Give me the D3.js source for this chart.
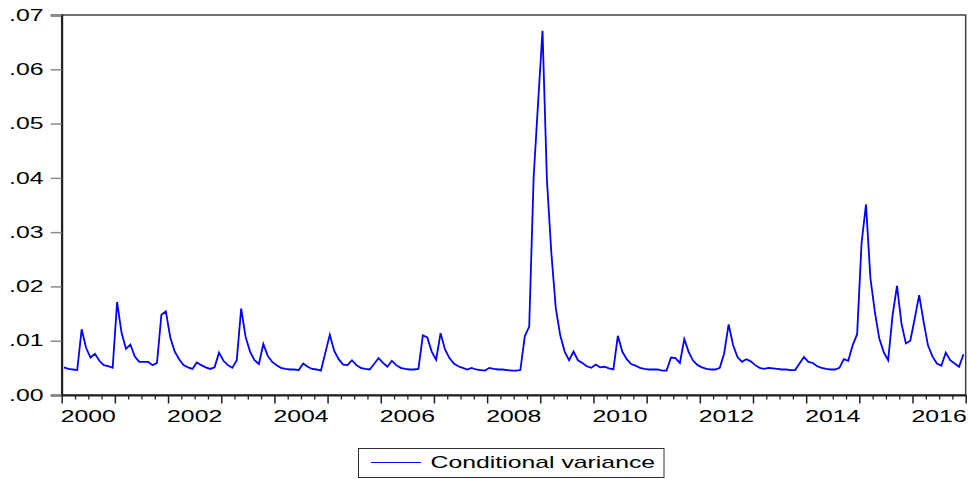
<!DOCTYPE html>
<html>
<head>
<meta charset="utf-8">
<script src="https://cdn.jsdelivr.net/npm/d3@7"></script>
<style>
  html, body { margin: 0; padding: 0; background: #fff; }
  svg { display: block; }
  text { font-family: "Liberation Sans", Arial, sans-serif; font-size: 16px; fill: #000; }
</style>
</head>
<body>
<svg id="chart" width="968" height="479"></svg>
<script>
// Monthly conditional variance, 2000M01 - 2016M12 (one row of twelve months per year)
const startYear = 2000;
const endYear = 2017;
const variance2000 = [0.0051, 0.0048, 0.0047, 0.0046, 0.0121, 0.0087, 0.0069, 0.0076, 0.0063, 0.0055, 0.0053, 0.0050];
const variance2001 = [0.0171, 0.0115, 0.0085, 0.0093, 0.0071, 0.0061, 0.0061, 0.0061, 0.0055, 0.0059, 0.0148, 0.0154];
const variance2002 = [0.0106, 0.0080, 0.0066, 0.0055, 0.0051, 0.0048, 0.0060, 0.0055, 0.0051, 0.0048, 0.0051, 0.0078];
const variance2003 = [0.0063, 0.0055, 0.0050, 0.0064, 0.0159, 0.0107, 0.0080, 0.0064, 0.0057, 0.0094, 0.0072, 0.0061];
const variance2004 = [0.0055, 0.0050, 0.0048, 0.0047, 0.0047, 0.0046, 0.0058, 0.0052, 0.0048, 0.0047, 0.0045, 0.0078];
const variance2005 = [0.0111, 0.0081, 0.0066, 0.0056, 0.0055, 0.0064, 0.0055, 0.0050, 0.0048, 0.0047, 0.0057, 0.0068];
const variance2006 = [0.0059, 0.0052, 0.0063, 0.0055, 0.0050, 0.0048, 0.0047, 0.0047, 0.0048, 0.0110, 0.0106, 0.0080];
const variance2007 = [0.0065, 0.0114, 0.0084, 0.0068, 0.0058, 0.0053, 0.0050, 0.0047, 0.0050, 0.0047, 0.0046, 0.0045];
const variance2008 = [0.0050, 0.0048, 0.0047, 0.0047, 0.0046, 0.0045, 0.0045, 0.0046, 0.0108, 0.0126, 0.0401, 0.0538];
const variance2009 = [0.0671, 0.0396, 0.0261, 0.0160, 0.0110, 0.0080, 0.0064, 0.0080, 0.0064, 0.0059, 0.0053, 0.0050];
const variance2010 = [0.0056, 0.0051, 0.0052, 0.0049, 0.0047, 0.0109, 0.0080, 0.0066, 0.0057, 0.0054, 0.0050, 0.0048];
const variance2011 = [0.0047, 0.0047, 0.0047, 0.0045, 0.0045, 0.0069, 0.0068, 0.0059, 0.0103, 0.0079, 0.0063, 0.0055];
const variance2012 = [0.0051, 0.0048, 0.0047, 0.0047, 0.0050, 0.0077, 0.0130, 0.0092, 0.0070, 0.0061, 0.0066, 0.0062];
const variance2013 = [0.0055, 0.0050, 0.0048, 0.0050, 0.0049, 0.0048, 0.0047, 0.0047, 0.0046, 0.0046, 0.0058, 0.0070];
const variance2014 = [0.0061, 0.0059, 0.0053, 0.0050, 0.0048, 0.0047, 0.0047, 0.0050, 0.0066, 0.0063, 0.0092, 0.0112];
const variance2015 = [0.0280, 0.0351, 0.0215, 0.0153, 0.0104, 0.0079, 0.0064, 0.0147, 0.0201, 0.0132, 0.0095, 0.0100];
const variance2016 = [0.0141, 0.0184, 0.0135, 0.0091, 0.0071, 0.0058, 0.0054, 0.0078, 0.0064, 0.0058, 0.0052, 0.0075];

const yTicks = [0, 0.01, 0.02, 0.03, 0.04, 0.05, 0.06, 0.07];
const yearLabels = [2000, 2002, 2004, 2006, 2008, 2010, 2012, 2014, 2016];
const seriesName = "Conditional variance";

const yearly = [variance2000, variance2001, variance2002, variance2003, variance2004, variance2005,
  variance2006, variance2007, variance2008, variance2009, variance2010, variance2011,
  variance2012, variance2013, variance2014, variance2015, variance2016];

// each observation sits in the middle of its month
const series = [];
yearly.forEach((months, i) => {
  months.forEach((v, m) => series.push({ t: startYear + i + (m + 0.5) / 12, v }));
});

const svg = d3.select("#chart");
const plot = { left: 61.7, right: 965.7, top: 15, bottom: 395 };
const stretch = 1.55; // wide lettering used throughout the chart

const x = d3.scaleLinear().domain([startYear, endYear]).range([plot.left, plot.right]);
const y = d3.scaleLinear().domain([0, 0.07]).range([plot.bottom, plot.top]);

// frame around the plot area
svg.append("rect")
  .attr("x", plot.left).attr("y", plot.top)
  .attr("width", plot.right - plot.left).attr("height", plot.bottom - plot.top)
  .attr("fill", "none").attr("stroke", "#404040").attr("stroke-width", 1.5);

// left axis: outward gray ticks
const yAxis = svg.append("g")
  .attr("transform", `translate(${plot.left},0)`)
  .call(d3.axisLeft(y).tickValues(yTicks).tickSize(11).tickFormat(""));
yAxis.select(".domain").attr("stroke", "#202020").attr("stroke-width", 2);
yAxis.selectAll(".tick line").attr("stroke", "#8a8a8a").attr("stroke-width", 1.5);

const yFmt = d => d3.format(".2f")(d).replace(/^0/, "");
svg.append("g").selectAll("text")
  .data(yTicks).join("text")
  .attr("text-anchor", "end")
  .attr("transform", d => `translate(43.5,${y(d) + 5.7}) scale(${stretch},1)`)
  .text(yFmt);

// bottom axis: quarterly minor ticks, yearly major ticks
const quarters = d3.range(startYear, endYear + 0.001, 0.25).filter(q => q % 1 !== 0);
const years = d3.range(startYear, endYear + 1);
const xMinor = svg.append("g")
  .attr("transform", `translate(0,${plot.bottom})`)
  .call(d3.axisBottom(x).tickValues(quarters).tickSize(4.5).tickFormat(""));
xMinor.select(".domain").remove();
xMinor.selectAll(".tick line").attr("stroke", "#202020").attr("stroke-width", 1.3);

const xMajor = svg.append("g")
  .attr("transform", `translate(0,${plot.bottom})`)
  .call(d3.axisBottom(x).tickValues(years).tickSize(8.5).tickFormat("").tickSizeOuter(0));
xMajor.select(".domain").attr("stroke", "#202020").attr("stroke-width", 2);
xMajor.selectAll(".tick line").attr("stroke", "#202020").attr("stroke-width", 1.5);

// year labels centred on their year
svg.append("g").selectAll("text")
  .data(yearLabels).join("text")
  .attr("text-anchor", "middle")
  .attr("transform", d => `translate(${x(d + 0.5)},421.5) scale(${stretch},1)`)
  .text(d => d);

// the series
const line = d3.line().x(d => x(d.t)).y(d => y(d.v));
svg.append("path")
  .datum(series)
  .attr("fill", "none")
  .attr("stroke", "#0000ff")
  .attr("stroke-width", 1.8)
  .attr("stroke-linejoin", "miter")
  .attr("d", line);

// legend
const legend = svg.append("g");
legend.append("rect")
  .attr("x", 358.5).attr("y", 448.5).attr("width", 305.5).attr("height", 29)
  .attr("fill", "#fff").attr("stroke", "#303030").attr("stroke-width", 1);
legend.append("line")
  .attr("x1", 371).attr("x2", 421).attr("y1", 462.5).attr("y2", 462.5)
  .attr("stroke", "#0000ff").attr("stroke-width", 1);
legend.append("text")
  .attr("transform", `translate(430.5,467.5) scale(${stretch},1)`)
  .text(seriesName);
</script>
</body>
</html>
